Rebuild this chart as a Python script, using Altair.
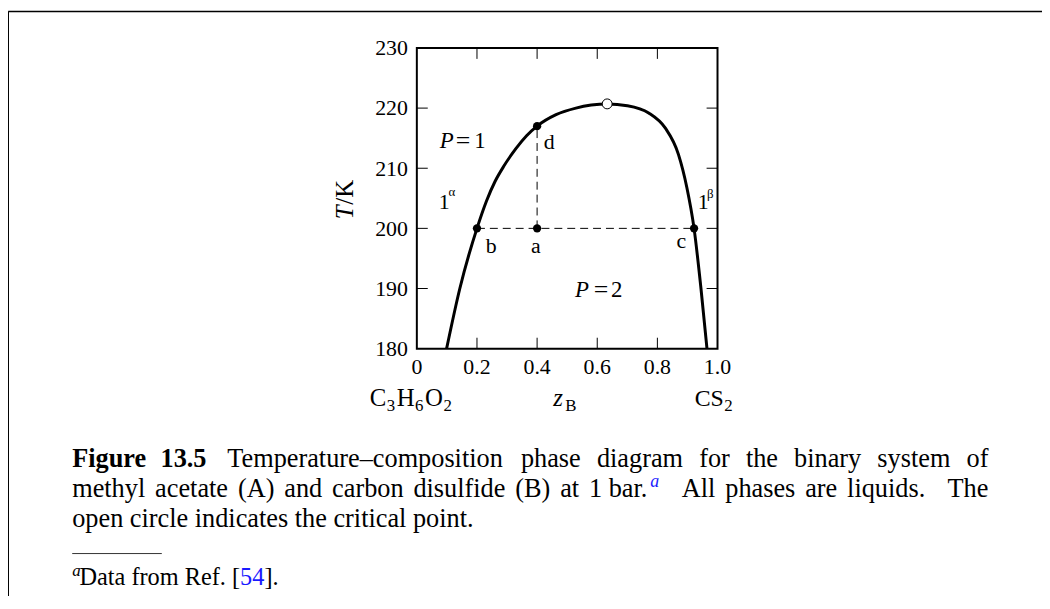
import altair as alt
import pandas as pd

# ---------------- data ----------------
# coexistence curve of the two liquid phases (z_B, T/K)
curve_z = [0.099, 0.143, 0.200, 0.232, 0.260, 0.290, 0.330, 0.365, 0.400, 0.463,
           0.529, 0.580, 0.633, 0.700, 0.771, 0.826, 0.870, 0.898, 0.922, 0.945, 0.965]
curve_T = [180.0, 190.0, 200.0, 204.6, 207.8, 210.4, 213.3, 215.4, 217.0, 218.9,
           220.0, 220.5, 220.7, 220.4, 219.2, 216.7, 212.3, 206.8, 200.0, 190.0, 180.0]

# labelled state points a, b, c, d
point_names = ["a", "b", "c", "d"]
point_z = [0.400, 0.200, 0.922, 0.400]
point_T = [200.0, 200.0, 200.0, 217.0]

# critical point (open circle)
critical_z = [0.633]
critical_T = [220.7]

# dashed tie line b-c and dashed vertical a-d
dash_z1 = [0.200, 0.400]
dash_z2 = [0.922, 0.400]
dash_T1 = [200.0, 200.0]
dash_T2 = [200.0, 217.0]

# axes
x_ticks = [0.0, 0.2, 0.4, 0.6, 0.8, 1.0]
x_tick_labels = ["0", "0.2", "0.4", "0.6", "0.8", "1.0"]
y_ticks = [180, 190, 200, 210, 220, 230]
y_tick_labels = ["180", "190", "200", "210", "220", "230"]
inner_x_ticks = [0.2, 0.4, 0.6, 0.8]
inner_y_ticks = [190, 200, 210, 220]

# caption text
caption_bold = ["Figure", "13.5"]
caption_line1 = ["Temperature\u2013composition", "phase", "diagram", "for", "the",
                 "binary", "system", "of"]
caption_line2 = ["methyl", "acetate", "(A)", "and", "carbon", "disulfide", "(B)", "at",
                 "1 bar.", "All", "phases", "are", "liquids.", "The"]
caption_line3 = "open circle indicates the critical point."
footnote_text = ["Data from Ref. [", "54", "]."]

# ---------------- layout ----------------
SERIF = "Liberation Serif"
W = H = 303
OX, OY = 420, 46            # page position of the plot area's top-left corner
TOTAL_W, TOTAL_H = 1042, 588
PAD = {"left": OX - 8, "top": OY - 8,
       "right": TOTAL_W - (OX - 8) - W, "bottom": TOTAL_H - (OY - 8) - H}

# Times / Liberation Serif advance widths (1/1000 em), for placing caption pieces
TW = dict(a=444, b=500, c=444, d=500, e=444, f=333, g=500, h=500, i=278, j=278, k=500,
          l=278, m=778, n=500, o=500, p=500, q=500, r=333, s=389, t=278, u=500, v=500,
          w=722, x=500, y=500, z=444, A=722, B=667, C=667, D=722, F=556, H=722, O=722,
          R=667, S=556, T=611)
TW.update({" ": 250, ".": 250, "(": 333, ")": 333, "[": 333, "]": 333, "\u2013": 500})
for dgt in "0123456789":
    TW[dgt] = 500


def tw(s, fs):
    return sum(TW.get(ch, 500) for ch in s) * fs / 1000.0


one = pd.DataFrame({"k": [0]})
layers = []


def text(s, x, y, size, style="normal", weight="normal", color="black",
         align="left", baseline="alphabetic", angle=None):
    kw = dict(text=s, font=SERIF, fontSize=size, fontStyle=style, fontWeight=weight,
              color=color, align=align, baseline=baseline)
    if angle is not None:
        kw["angle"] = angle
    layers.append(alt.Chart(one).mark_text(**kw).encode(
        x=alt.value(x - OX), y=alt.value(y - OY)))


def line(x1, y1, x2, y2, width, color="black"):
    layers.append(alt.Chart(one).mark_rule(color=color, strokeWidth=width).encode(
        x=alt.value(x1 - OX), x2=alt.value(x2 - OX),
        y=alt.value(y1 - OY), y2=alt.value(y2 - OY)))


# ---------------- plot ----------------
xsc = alt.Scale(domain=[0, 1], nice=False, zero=False)
ysc = alt.Scale(domain=[180, 230], nice=False, zero=False)

curve_df = pd.DataFrame({"z": curve_z, "T": curve_T})
curve = alt.Chart(curve_df).mark_line(color="black", strokeWidth=3,
                                      interpolate="monotone").encode(
    x=alt.X("z:Q", scale=xsc, axis=None),
    y=alt.Y("T:Q", scale=ysc, axis=None))

dash_df = pd.DataFrame({"z1": dash_z1, "z2": dash_z2, "T1": dash_T1, "T2": dash_T2})
dashes = alt.Chart(dash_df).mark_rule(color="black", strokeWidth=1,
                                      strokeDash=[8, 5]).encode(
    x=alt.X("z1:Q", scale=xsc, axis=None), x2="z2:Q",
    y=alt.Y("T1:Q", scale=ysc, axis=None), y2="T2:Q")

pts_df = pd.DataFrame({"name": point_names, "z": point_z, "T": point_T})
pts = alt.Chart(pts_df).mark_point(filled=True, color="black", size=70, opacity=1).encode(
    x=alt.X("z:Q", scale=xsc, axis=None), y=alt.Y("T:Q", scale=ysc, axis=None))

crit_df = pd.DataFrame({"z": critical_z, "T": critical_T})
crit = alt.Chart(crit_df).mark_point(filled=True, fill="white", stroke="black",
                                     strokeWidth=1, size=100, opacity=1).encode(
    x=alt.X("z:Q", scale=xsc, axis=None), y=alt.Y("T:Q", scale=ysc, axis=None))

xt_df = pd.DataFrame({"v": inner_x_ticks})
yt_df = pd.DataFrame({"v": inner_y_ticks})
tick_top = alt.Chart(xt_df).mark_rule(color="black", strokeWidth=1).encode(
    x=alt.X("v:Q", scale=xsc, axis=None), y=alt.value(0), y2=alt.value(11))
tick_bot = alt.Chart(xt_df).mark_rule(color="black", strokeWidth=1).encode(
    x=alt.X("v:Q", scale=xsc, axis=None), y=alt.value(H - 11), y2=alt.value(H))
tick_left = alt.Chart(yt_df).mark_rule(color="black", strokeWidth=1).encode(
    y=alt.Y("v:Q", scale=ysc, axis=None), x=alt.value(0), x2=alt.value(11))
tick_right = alt.Chart(yt_df).mark_rule(color="black", strokeWidth=1).encode(
    y=alt.Y("v:Q", scale=ysc, axis=None), x=alt.value(W - 11), x2=alt.value(W))

# tick labels, placed through the same scales
TF = 22
xl_df = pd.DataFrame({"v": x_ticks, "lab": x_tick_labels})
yl_df = pd.DataFrame({"v": y_ticks, "lab": y_tick_labels})
xlabels = alt.Chart(xl_df).mark_text(font=SERIF, fontSize=TF, color="black",
                                     align="center", baseline="alphabetic").encode(
    x=alt.X("v:Q", scale=xsc, axis=None), y=alt.value(375 - OY), text="lab:N")
ylabels = alt.Chart(yl_df).mark_text(font=SERIF, fontSize=TF, color="black",
                                     align="right", baseline="alphabetic",
                                     dy=7.4).encode(
    y=alt.Y("v:Q", scale=ysc, axis=None), x=alt.value(411 - OX), text="lab:N")

layers += [curve, dashes, pts, crit, tick_top, tick_bot, tick_left, tick_right,
           xlabels, ylabels]

# ---------------- annotations inside / around the plot ----------------
FS = 22
text("P", 443.0, 146.7, 23, style="italic")
text("=", 466.5, 147.5, 26, align="center")
text("1", 483.5, 146.7, 23, align="center")
text("P", 579.5, 296.7, 23, style="italic")
text("=", 605.5, 297.5, 26, align="center")
text("2", 621.5, 296.7, 23, align="center")
text("1", 442.0, 208.3, FS)
text("\u03b1", 452.0, 195.0, 13)
text("1", 703.0, 208.3, FS)
text("\u03b2", 712.5, 197.5, 13)
text("a", 540.0, 252.7, FS, align="center")
text("b", 495.0, 252.7, FS, align="center")
text("c", 686.5, 247.3, FS, align="center")
text("d", 553.5, 148.3, FS, align="center")

# y-axis title  T/K
text("T", 348, 218.5, 25, style="italic", angle=270, baseline="middle")
text("/K", 348, 204.0, 25, angle=270, baseline="middle")

# composition labels below the x axis
BL = 406.7
LF, SF = 25, 17
xc = 372.5
for piece, sub in [("C", False), ("3", True), ("H", False), ("6", True),
                   ("O", False), ("2", True)]:
    if sub:
        text(piece, xc, BL + 5, SF)
        xc += tw(piece, SF) + 1.5
    else:
        text(piece, xc, BL, LF)
        xc += tw(piece, LF) + 0.5
text("z", 557.5, BL, LF, style="italic")
text("B", 569.5, BL + 5, SF)
xc = 700.0
text("C", xc, BL, 24)
text("S", xc + tw("C", 24), BL, 24)
text("2", xc + tw("CS", 24) + 0.5, BL + 5, SF)

# ---------------- caption ----------------
CF = 26.5
X0, XR = 72.7, 996.0
Y1, Y2, Y3 = 468.0, 498.5, 529.0

text(caption_bold[0], X0, Y1, CF, weight="bold")
text(caption_bold[1], 161.7, Y1, CF, weight="bold")

# line 1: justified between the start of "Temperature" and the right margin
start1 = 229.0
widths1 = [tw(wd, CF) for wd in caption_line1]
gap1 = (XR - start1 - sum(widths1)) / (len(caption_line1) - 1)
xpos = start1
for wd, wdt in zip(caption_line1, widths1):
    text(wd, xpos, Y1, CF)
    xpos += wdt + gap1

# line 2: justified, sentence gaps stretch more (TeX space factor)
sup_w = 0.35 * CF + 1.5
widths2 = [tw(wd, CF) + (sup_w if wd == "1 bar." else 0) for wd in caption_line2]
base = [0.25 * CF + (0.1 * CF if wd.endswith(".") else 0) for wd in caption_line2[:-1]]
wts = [4.0 if wd.endswith(".") else 1.0 for wd in caption_line2[:-1]]
k = (XR - X0 - sum(widths2) - sum(base)) / sum(wts)
xpos = X0
for i, wd in enumerate(caption_line2):
    text(wd, xpos, Y2, CF)
    if wd == "1 bar.":
        text("a", xpos + tw(wd, CF) + 1.5, Y2 - 10.5, 18, style="italic", color="#1a1aff")
    if i < len(caption_line2) - 1:
        xpos += widths2[i] + base[i] + wts[i] * k

text(caption_line3, X0, Y3, CF)

# footnote rule and footnote
line(X0, 555.5, 163.0, 555.5, 1, color="#333333")
FF = 24.5
FY = 587.0
text("a", X0, FY - 8.5, 17, style="italic")
fx = 80.0
text(footnote_text[0], fx, FY, FF)
fx2 = fx + tw(footnote_text[0], FF)
text(footnote_text[1], fx2, FY, FF, color="#1a1aff")
text(footnote_text[2], fx2 + tw(footnote_text[1], FF), FY, FF)

# figure frame (top and left edges of the boxed figure)
line(8.2, 9.2, 1050.0, 9.2, 1.6)
line(8.2, 9.2, 8.2, 609.0, 1.6)

chart = alt.layer(*layers).properties(
    width=W, height=H, padding=PAD,
    autosize=alt.AutoSizeParams(type="none"),
    background="white",
).configure_view(stroke="black", strokeWidth=2)

chart.save("out.html", embed_options={"renderer": "svg", "actions": False})
